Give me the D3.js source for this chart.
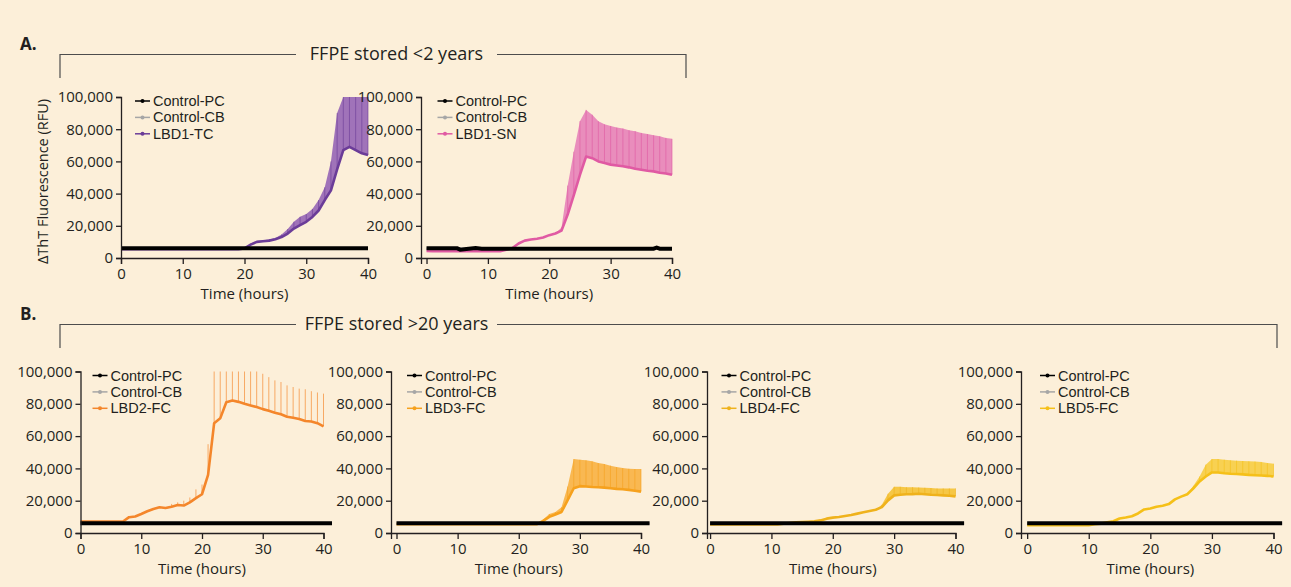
<!DOCTYPE html>
<html lang="en">
<head>
<meta charset="UTF-8">
<title>ThT fluorescence - FFPE</title>
<script src="https://d3js.org/d3.v7.min.js"></script>
<style>
    body { margin: 0; background: #fcefd9; }
    svg { display: block; font-family: "Open Sans", sans-serif; }
    .axis path, .axis line { stroke: #231f20; stroke-width: 1.3px; }
    .axis text { font-size: 15px; fill: #231f20; font-family: "Open Sans", sans-serif; }
    .legend text { font-family: "Liberation Sans", Arial, sans-serif; font-size: 14.5px; fill: #231f20; }
</style>
</head>
<body>
<svg id="chart"></svg>
<script>
// time points (hours)
const hours = [0,1,2,3,4,5,6,7,8,9,10,11,12,13,14,15,16,17,18,19,20,21,22,23,24,25,26,27,28,29,30,31,32,33,34,35,36,37,38,39,40];

// values below in thousands of RFU
const tcMean  = [5.5,5.5,5.5,5.5,5.5,5.5,5.5,5.5,5.5,5.5,5.5,5.5,5.5,5.5,5.5,5.5,5.5,5.5,5.5,5.5,6,8.3,10,10.4,10.8,11.7,13,15.2,18.3,20.4,22.5,25.5,29.5,36,42,55,67,69,67,65,64];
const tcUpper = [5.5,5.5,5.5,5.5,5.5,5.5,5.5,5.5,5.5,5.5,5.5,5.5,5.5,5.5,5.5,5.5,5.5,5.5,5.5,5.5,6,9,10.5,10.8,11.5,12.5,14.6,18,22.5,25.6,27.3,30.5,36,44,60,90,100,100,100,100,100];

const snMean  = [4.4,4.2,4.2,4.2,4.2,4.2,4.2,4.2,4.2,4.2,4.2,4.2,4.2,5.2,6.2,9,10.8,11.5,12,12.7,14.2,15.2,17,27,39,51.7,63,62,60,59,58,57.5,57,56.3,55.4,54.8,54.2,53.8,53,52.5,51.7];
const snUpper = [4.4,4.2,4.2,4.2,4.2,4.2,4.2,4.2,4.2,4.2,4.2,4.2,4.2,5.2,6.2,9,10.8,11.5,12,12.7,14.2,15.2,19,45,66,85,92,89,85,83,82,81,80.4,79.4,78.8,77.7,77,76.3,75.6,74.6,74];

const fc2Mean  = [7.1,7.1,7.1,7.1,7.1,7.1,7.1,7.1,9.8,10.2,11.8,13.5,14.9,15.9,15.5,16.3,17.3,17,19,21.6,24,36,68,71,81,82,81.2,80,79,78,76.7,75.7,74.5,73.5,72,71.4,70.6,69.4,69,68,66];
const fc2Upper = [7.1,7.1,7.1,7.1,7.1,7.1,7.1,7.1,9.8,10.2,11.8,13.5,14.9,15.9,15.5,18,19,20,22,27,30,55,100,100,100,100,100,100,100,100,98.6,96.5,94.5,93.5,91.4,90.4,89.4,89,87.8,87,86.3];

const fc3Mean  = [5.5,5.5,5.5,5.5,5.5,5.5,5.5,5.5,5.5,5.5,5.5,5.5,5.5,5.5,5.5,5.5,5.5,5.5,5.5,5.5,5.5,5.5,5.5,5.5,7.5,10,11.5,13,20.4,27.7,29,28.8,28.5,28.3,28.1,27.7,27.3,27.1,26.7,26.2,25.6];
const fc3Upper = [5.5,5.5,5.5,5.5,5.5,5.5,5.5,5.5,5.5,5.5,5.5,5.5,5.5,5.5,5.5,5.5,5.5,5.5,5.5,5.5,5.5,5.5,5.5,5.5,8.3,11.7,13,16,28.8,45.8,45.4,45,44.4,43.3,42.7,41.7,40.8,40.2,39.8,39.6,39.6];

const fc4Mean  = [5.3,5.3,5.3,5.3,5.3,5.3,5.3,5.3,5.3,5.3,5.3,5.3,5.8,6.2,6.6,6.8,7,7.2,7.8,8.9,9.5,9.9,10.5,11.1,12,12.8,13.6,14.4,16,20.2,23.3,23.7,24,24.1,24.3,24,23.7,23.5,23.3,23.1,22.7];
const fc4Upper = [5.3,5.3,5.3,5.3,5.3,5.3,5.3,5.3,5.3,5.3,5.3,5.3,5.8,6.2,6.6,6.8,7,7.2,7.8,8.9,9.5,9.9,10.5,11.1,12,12.8,13.6,14.4,17.5,24.3,28.6,28.6,28.4,28.4,28.2,28,27.8,27.6,27.6,27.6,27.6];

const fc5Mean  = [4.8,4.8,4.8,4.8,4.8,4.8,4.8,4.8,4.8,4.8,4.8,5.4,5.8,6.7,7.3,9,9.6,10.4,12.1,14.6,15.2,16.3,16.9,17.9,20.8,22.5,24,27.7,31.9,35,37.5,37.5,37,36.7,36.5,36.3,36,35.8,35.6,35.4,35];
const fc5Upper = [4.8,4.8,4.8,4.8,4.8,4.8,4.8,4.8,4.8,4.8,4.8,5.4,5.8,6.7,7.3,9,9.6,10.4,12.1,14.6,15.2,16.3,16.9,17.9,20.8,22.5,24,29.2,35,42.3,45.8,45.8,45.4,45,44.8,44.6,44.4,44.2,44,43.3,42.9];

// controls (few vertices, flat lines)
const ctrlTimesA  = [0, 40];
const ctrlTimesB  = [0, 41.4];
const pcFlat      = [6.1, 6.1];
const cbFlat      = [5.9, 5.9];
const pcTimesSN   = [0, 5, 5.5, 6.5, 8, 9, 10, 37, 37.5, 38, 40];
const pcValuesSN  = [6, 6, 5.2, 5.6, 6.2, 5.8, 5.8, 5.8, 6.4, 5.8, 5.8];

const yTicks = [0, 20000, 40000, 60000, 80000, 100000];
const xTicks = [0, 10, 20, 30, 40];
const legendNames = ["Control-PC", "Control-CB"];

const panels = [
    {name: "LBD1-TC", mean: tcMean,  upper: tcUpper,  pcT: ctrlTimesA, pcV: pcFlat,     cbT: ctrlTimesA, cbV: cbFlat,
     color: "#6b3c98", band: "#8f5db3", axisX: 121, xMin: 0, x40: 368, top: 97, bottom: 258, legX: 135, yTitle: true, bars: false},
    {name: "LBD1-SN", mean: snMean,  upper: snUpper,  pcT: pcTimesSN,  pcV: pcValuesSN, cbT: ctrlTimesA, cbV: cbFlat,
     color: "#e05aa3", band: "#e57bb6", axisX: 421, xMin: -0.9, x40: 672, top: 97, bottom: 258, legX: 437.5},
    {name: "LBD2-FC", mean: fc2Mean, upper: fc2Upper, pcT: ctrlTimesB, pcV: pcFlat,     cbT: ctrlTimesB, cbV: cbFlat,
     color: "#f4862b", band: "#f7a964", axisX: 80.5, xMin: 0, x40: 323.5, top: 371.5, bottom: 533, legX: 92.5, bars: true},
    {name: "LBD3-FC", mean: fc3Mean, upper: fc3Upper, pcT: ctrlTimesB, pcV: pcFlat,     cbT: ctrlTimesB, cbV: cbFlat,
     color: "#f6a11d", band: "#f8ae3a", axisX: 391, xMin: -0.9, x40: 641, top: 371.5, bottom: 533, legX: 407},
    {name: "LBD4-FC", mean: fc4Mean, upper: fc4Upper, pcT: ctrlTimesB, pcV: pcFlat,     cbT: ctrlTimesB, cbV: cbFlat,
     color: "#efb21c", band: "#f4c02c", axisX: 707, xMin: -0.5, x40: 955.5, top: 371.5, bottom: 533, legX: 721.5},
    {name: "LBD5-FC", mean: fc5Mean, upper: fc5Upper, pcT: ctrlTimesB, pcV: pcFlat,     cbT: ctrlTimesB, cbV: cbFlat,
     color: "#f5c019", band: "#f7cb3a", axisX: 1021, xMin: -1, x40: 1273.5, top: 371.5, bottom: 533, legX: 1040}
];

const width = 1291, height = 587;
const svg = d3.select("#chart").attr("width", width).attr("height", height);
svg.append("rect").attr("width", width).attr("height", height).attr("fill", "#fcefd9");

// section headers
function header(letter, title, y, x1, x2) {
    svg.append("text").attr("x", 20).attr("y", y - 4).attr("font-size", 17).attr("font-weight", "bold")
        .attr("fill", "#231f20").text(letter);
    const gap0 = 296, gap1 = 497;
    svg.append("path")
        .attr("d", `M${x1},${y + 24}V${y + 0.5}H${gap0}M${gap1},${y + 0.5}H${x2}V${y + 24}`)
        .attr("fill", "none").attr("stroke", "#4d4d4d").attr("stroke-width", 1.2);
    svg.append("text").attr("x", (gap0 + gap1) / 2).attr("y", y).attr("dy", "0.35em")
        .attr("text-anchor", "middle").attr("font-size", 18).attr("fill", "#231f20").text(title);
}
header("A.", "FFPE stored <2 years", 54, 60, 686);
header("B.", "FFPE stored >20 years", 324, 60, 1277);

panels.forEach(p => {
    const x = d3.scaleLinear().domain([p.xMin, 40]).range([p.axisX, p.x40]);
    const y = d3.scaleLinear().domain([0, 100000]).range([p.bottom, p.top]);
    const g = svg.append("g");

    const pts = hours.map((h, i) => ({t: h, m: p.mean[i] * 1000, u: p.upper[i] * 1000}));

    // error band / error bars
    if (!p.bars) {
        g.append("path").datum(pts)
            .attr("d", d3.area().x(d => x(d.t)).y0(d => y(d.m)).y1(d => y(d.u)))
            .attr("fill", p.band).attr("opacity", 0.85);
    }
    g.selectAll(".eb").data(pts.filter(d => d.u > d.m)).join("line")
        .attr("x1", d => x(d.t)).attr("x2", d => x(d.t))
        .attr("y1", d => y(d.m)).attr("y2", d => y(d.u))
        .attr("stroke", p.bars ? p.band : p.color).attr("stroke-width", 1).attr("opacity", p.bars ? 1 : 0.6);

    // mean line
    g.append("path").datum(pts)
        .attr("d", d3.line().x(d => x(d.t)).y(d => y(d.m)))
        .attr("fill", "none").attr("stroke", p.color).attr("stroke-width", 2.6).attr("stroke-linejoin", "round");

    // controls
    const ctrl = (T, V, c, w) => g.append("path")
        .datum(T.map((t, i) => [t, V[i] * 1000]))
        .attr("d", d3.line().x(d => x(d[0])).y(d => y(d[1])))
        .attr("fill", "none").attr("stroke", c).attr("stroke-width", w);
    ctrl(p.cbT, p.cbV, "#a6a6a6", 2);
    ctrl(p.pcT, p.pcV, "#000", 4);

    // axes
    g.append("g").attr("class", "axis").attr("transform", `translate(${p.axisX},0)`)
        .call(d3.axisLeft(y).tickValues(yTicks).tickFormat(d3.format(",")).tickSizeOuter(0).tickSize(5).tickPadding(3));
    g.append("g").attr("class", "axis").attr("transform", `translate(0,${p.bottom})`)
        .call(d3.axisBottom(x).tickValues(xTicks).tickSizeOuter(0).tickSize(6).tickPadding(4));

    g.append("text").attr("x", (x(0) + x(40)) / 2).attr("y", p.bottom + 36).attr("dy", "0.35em")
        .attr("text-anchor", "middle").attr("font-size", 15).attr("fill", "#231f20").text("Time (hours)");

    if (p.yTitle) {
        g.append("text").attr("transform", `translate(43,${(p.top + p.bottom) / 2 + 4}) rotate(-90)`)
            .attr("dy", "0.35em").attr("text-anchor", "middle").attr("font-size", 14.5).attr("fill", "#231f20")
            .text("ΔThT Fluorescence (RFU)");
    }

    // legend
    const items = [[legendNames[0], "#000"], [legendNames[1], "#a6a6a6"], [p.name, p.color]];
    const leg = g.append("g").attr("class", "legend").attr("transform", `translate(${p.legX},${p.top + 4})`);
    items.forEach((it, i) => {
        const row = leg.append("g").attr("transform", `translate(0,${i * 16.4})`);
        row.append("line").attr("x1", 0).attr("x2", 15).attr("stroke", it[1]).attr("stroke-width", 1.5);
        row.append("circle").attr("cx", 7.5).attr("r", 2).attr("fill", it[1]);
        row.append("text").attr("x", 18).attr("dy", "0.35em").text(it[0]);
    });
});
</script>
</body>
</html>
